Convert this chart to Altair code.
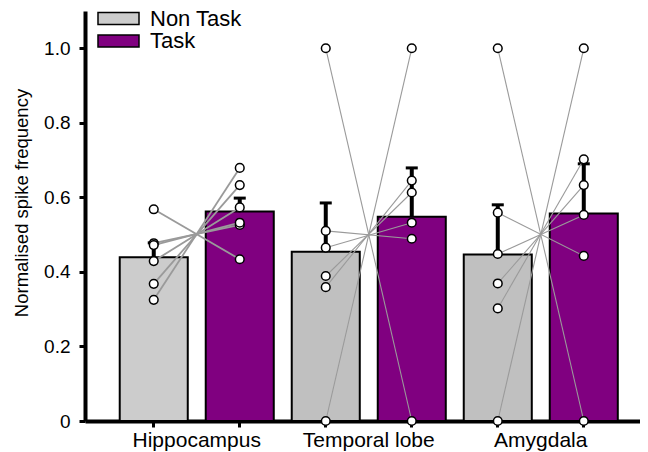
import altair as alt
import pandas as pd

regions = ["Hippocampus", "Temporal lobe", "Amygdala"]
conditions = ["Non Task", "Task"]

# individual (paired) values
nontask_points = {
    "Hippocampus": [0.568, 0.477, 0.472, 0.429, 0.368, 0.325],
    "Temporal lobe": [1.0, 0.0, 0.510, 0.465, 0.389, 0.359],
    "Amygdala": [1.0, 0.0, 0.559, 0.448, 0.369, 0.302],
}
task_points = {
    "Hippocampus": [0.434, 0.526, 0.532, 0.573, 0.633, 0.679],
    "Temporal lobe": [0.0, 1.0, 0.489, 0.532, 0.613, 0.645],
    "Amygdala": [0.0, 1.0, 0.443, 0.553, 0.633, 0.702],
}

# bar means and upper error (SEM) values
nontask_mean = [0.439, 0.454, 0.447]
task_mean = [0.562, 0.548, 0.557]
nontask_err_top = [0.478, 0.585, 0.580]
task_err_top = [0.598, 0.679, 0.690]

shade_nt = ["Non Task", "Non Task ", "Non Task "]

bar_order = [f"{r}|{c}" for r in regions for c in conditions]

bar_rows = []
for i, r in enumerate(regions):
    bar_rows.append({"bar": f"{r}|Non Task", "region": r, "cond": "Non Task",
                     "shade": shade_nt[i], "mean": nontask_mean[i], "top": nontask_err_top[i]})
    bar_rows.append({"bar": f"{r}|Task", "region": r, "cond": "Task",
                     "shade": "Task", "mean": task_mean[i], "top": task_err_top[i]})
bars_df = pd.DataFrame(bar_rows)

pt_rows = []
for r in regions:
    for k, (a, b) in enumerate(zip(nontask_points[r], task_points[r])):
        pt_rows.append({"bar": f"{r}|Non Task", "region": r, "pair": f"{r}{k}", "value": a})
        pt_rows.append({"bar": f"{r}|Task", "region": r, "pair": f"{r}{k}", "value": b})
pts_df = pd.DataFrame(pt_rows)

FONT = "Liberation Sans"

x_enc = alt.X(
    "bar:N",
    scale=alt.Scale(domain=bar_order, paddingInner=0.209, paddingOuter=0.331, align=0.61),
    axis=alt.Axis(
        title=None,
        labelExpr="split(datum.label, '|')[1] == 'Non Task' ? split(datum.label, '|')[0] : ''",
        labelOffset=43,
        labelAngle=0,
        labelFontSize=21,
        labelFont=FONT,
        labelColor="black",
        labelBaseline="alphabetic",
        labelPadding=19,
        labelOverlap=False,
        labelBound=False,
        tickSize=6,
        tickWidth=3,
        tickColor="black",
        domainWidth=4,
        domainColor="black",
    ),
)

y_scale = alt.Scale(domain=[0, 1.1], nice=False)
y_axis = alt.Axis(
    values=[0, 0.2, 0.4, 0.6, 0.8, 1.0],
    labelExpr="datum.value == 0 ? '0' : format(datum.value, '.1f')",
    labelFontSize=19,
    labelFont=FONT,
    labelColor="black",
    labelPadding=9,
    tickSize=6,
    tickWidth=3,
    tickColor="black",
    domainWidth=4,
    domainColor="black",
    grid=False,
    title="Normalised spike frequency",
    titleFont=FONT,
    titleFontSize=18.5,
    titleFontWeight="normal",
    titleColor="black",
    titleAngle=-90,
    titleBaseline="alphabetic",
    titleAlign="center",
    titleX=-58,
    titleY=191.5,
)

base_bars = alt.Chart(bars_df)

bars = base_bars.mark_bar(stroke="black", strokeWidth=2).encode(
    x=x_enc,
    y=alt.Y("mean:Q", scale=y_scale, axis=y_axis),
    fill=alt.Fill(
        "shade:N",
        scale=alt.Scale(domain=["Non Task", "Task", "Non Task "],
                        range=["#cccccc", "#800080", "#c0c0c0"]),
        legend=alt.Legend(
            title=None,
            values=["Non Task", "Task"],
            orient="none",
            legendX=22.5,
            legendY=-3.5,
            symbolType="M-3.417,-1H3.417V1H-3.417Z",
            symbolSize=144,
            symbolStrokeColor="black",
            symbolStrokeWidth=1.5,
            labelFont=FONT,
            labelFontSize=22,
            labelColor="black",
            labelOffset=20.5,
            rowPadding=0.5,
        ),
    ),
)

err_rule = base_bars.mark_rule(color="black", strokeWidth=4).encode(
    x="bar:N", y="mean:Q", y2="top:Q"
)
err_cap = base_bars.mark_tick(color="black", size=12, thickness=3, opacity=1).encode(
    x="bar:N", y="top:Q"
)

lines = alt.Chart(pts_df).mark_line(color="#9a9a9a").encode(
    x="bar:N",
    y="value:Q",
    detail="pair:N",
    strokeWidth=alt.condition(alt.datum.region == "Hippocampus", alt.value(1.8), alt.value(1.1)),
)

points = alt.Chart(pts_df).mark_point(
    filled=True, fill="white", stroke="black", strokeWidth=1.5, size=75, opacity=1, shape="circle"
).encode(x="bar:N", y="value:Q")

chart = alt.layer(bars, err_rule, err_cap, lines, points).properties(
    width=555,
    height=410,
    padding={"left": 77, "top": 3, "right": 0, "bottom": 31},
    autosize=alt.AutoSizeParams(type="none"),
    background="white",
).configure_view(stroke=None)

chart.save("out.html", embed_options={"renderer": "svg", "actions": False})
